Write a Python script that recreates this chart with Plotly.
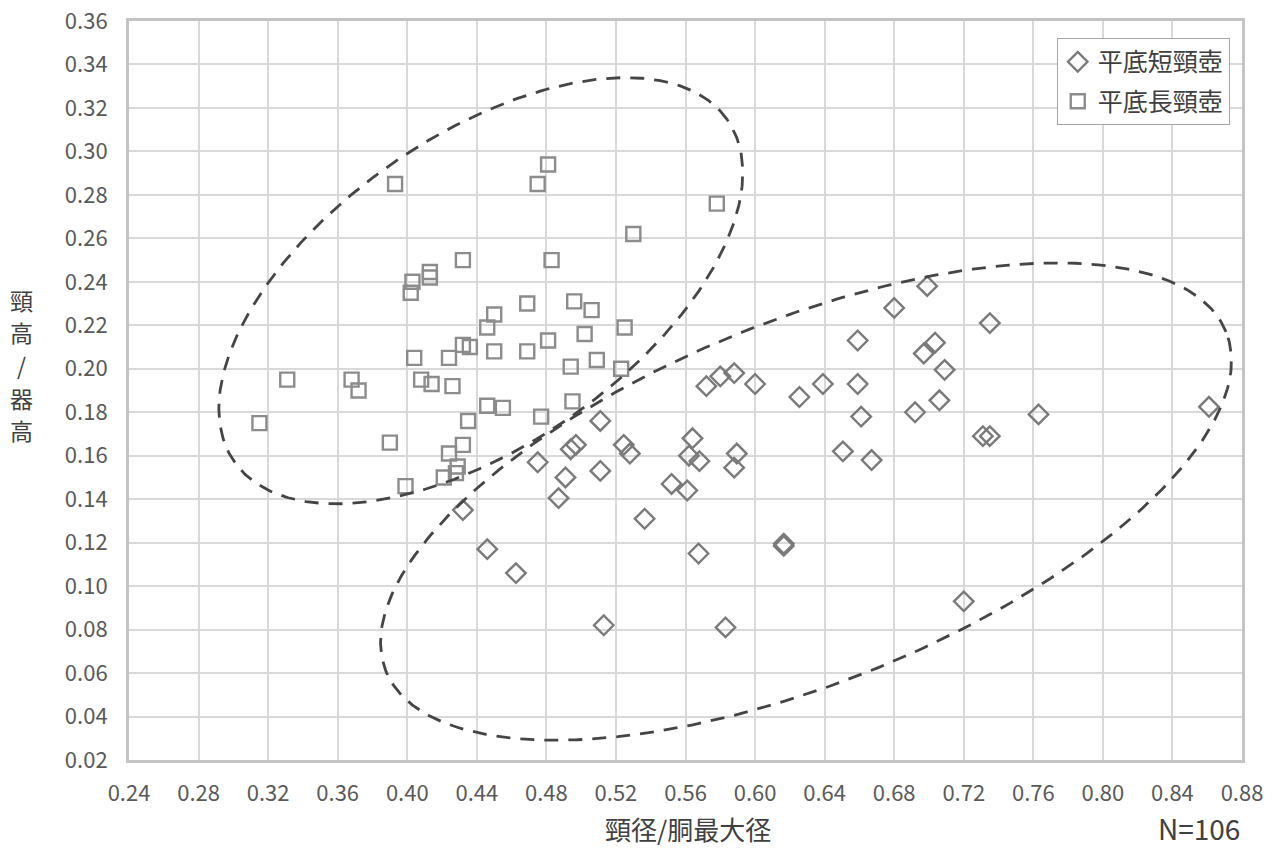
import numpy as np
import plotly.graph_objects as go

# ---- data: 平底長頸壺 (squares) ----
long_x = [0.315, 0.331, 0.368, 0.372, 0.390, 0.393, 0.399, 0.402, 0.403, 0.404,
          0.408, 0.413, 0.413, 0.414, 0.421, 0.424, 0.424, 0.426, 0.428, 0.429,
          0.432, 0.432, 0.432, 0.435, 0.436, 0.446, 0.446, 0.450, 0.450, 0.455,
          0.469, 0.469, 0.475, 0.477, 0.481, 0.481, 0.483, 0.494, 0.495, 0.496,
          0.502, 0.506, 0.509, 0.523, 0.525, 0.530, 0.578]
long_y = [0.175, 0.195, 0.195, 0.190, 0.166, 0.285, 0.146, 0.235, 0.240, 0.205,
          0.195, 0.242, 0.2445, 0.193, 0.150, 0.161, 0.205, 0.192, 0.152, 0.155,
          0.250, 0.211, 0.165, 0.176, 0.210, 0.219, 0.183, 0.225, 0.208, 0.182,
          0.230, 0.208, 0.285, 0.178, 0.294, 0.213, 0.250, 0.201, 0.185, 0.231,
          0.216, 0.227, 0.204, 0.200, 0.219, 0.262, 0.276]

# ---- data: 平底短頸壺 (diamonds) ----
short_x = [0.432, 0.446, 0.4625, 0.475, 0.487, 0.491, 0.494, 0.497, 0.511, 0.511,
           0.513, 0.5245, 0.528, 0.5365, 0.552, 0.561, 0.564, 0.562, 0.568, 0.5675,
           0.572, 0.580, 0.588, 0.5895, 0.588, 0.583, 0.600, 0.6165, 0.6165, 0.6255,
           0.639, 0.6505, 0.659, 0.659, 0.661, 0.667, 0.680, 0.692, 0.697, 0.699,
           0.7035, 0.706, 0.709, 0.720, 0.731, 0.735, 0.735, 0.763, 0.861]
short_y = [0.135, 0.117, 0.106, 0.157, 0.1405, 0.150, 0.163, 0.165, 0.176, 0.153,
           0.082, 0.165, 0.161, 0.131, 0.147, 0.144, 0.168, 0.160, 0.1575, 0.115,
           0.192, 0.1965, 0.198, 0.161, 0.1545, 0.081, 0.193, 0.1195, 0.1185, 0.187,
           0.193, 0.162, 0.213, 0.193, 0.178, 0.158, 0.228, 0.180, 0.207, 0.238,
           0.212, 0.1855, 0.1995, 0.093, 0.169, 0.169, 0.221, 0.179, 0.1825]

# y-axis title characters (stacked vertically)
ytitle_chars = ["頸", "高", "/", "器", "高"]

# ellipse annotations (center in data units, semi-axes in px, angle deg)
ellipses = [
    dict(cx=0.4423, cy=0.2359, a=300, b=155, ang=34.7),
    dict(cx=0.6293, cy=0.1389, a=453, b=181, ang=22.0),
]

W, H = 1274, 849
ML, MR, MT, MB = 129, 32, 21, 89
XR = [0.24, 0.88]
YR = [0.02, 0.36]
PW, PH = W - ML - MR, H - MT - MB
px_x = PW / (XR[1] - XR[0])
px_y = PH / (YR[1] - YR[0])

fig = go.Figure()

fig.add_trace(go.Scatter(
    x=short_x, y=short_y, mode="markers", name="平底短頸壺", legendgroup="a",
    marker=dict(symbol="diamond-open", size=15, color="#7a7a7a", line=dict(width=2.4, color="#7a7a7a")),
))
fig.add_trace(go.Scatter(
    x=long_x, y=long_y, mode="markers", name="平底長頸壺", legendgroup="b",
    marker=dict(symbol="square-open", size=14, color="#8c8c8c", line=dict(width=2.4, color="#8c8c8c")),
))

t = np.linspace(0, 2 * np.pi, 400)
for e in ellipses:
    th = np.radians(e["ang"])
    dx = e["a"] * np.cos(t) * np.cos(th) - e["b"] * np.sin(t) * np.sin(th)
    dy = e["a"] * np.cos(t) * np.sin(th) + e["b"] * np.sin(t) * np.cos(th)
    fig.add_trace(go.Scatter(
        x=e["cx"] + dx / px_x, y=e["cy"] + dy / px_y, mode="lines",
        line=dict(color="#454545", width=2.8, dash="14px,10px"),
        showlegend=False, hoverinfo="skip",
    ))

font_family = "Noto Sans CJK JP"
tick_font = dict(family=font_family, size=22, color="#595959")

fig.update_layout(
    width=W, height=H,
    margin=dict(l=ML, r=MR, t=MT, b=MB, autoexpand=False),
    paper_bgcolor="white", plot_bgcolor="white",
    font=dict(family=font_family, color="#595959"),
    legend=dict(
        x=0.989, y=0.977, xanchor="right", yanchor="top",
        bgcolor="white", bordercolor="#a6a6a6", borderwidth=1,
        font=dict(family=font_family, size=25, color="#404040"),
        itemwidth=30, tracegroupgap=4,
    ),
    showlegend=True,
)
fig.update_xaxes(
    range=XR, dtick=0.04, tick0=0.24, tickformat=".2f", automargin=False,
    showgrid=True, gridcolor="#d9d9d9", gridwidth=1.5,
    showline=True, linecolor="#c4c4c4", linewidth=3, mirror=True,
    zeroline=False, tickfont=tick_font, ticks="", ticklabelstandoff=12,
)
fig.update_yaxes(
    range=YR, dtick=0.02, tick0=0.02, tickformat=".2f", automargin=False,
    showgrid=True, gridcolor="#d9d9d9", gridwidth=1.5,
    showline=True, linecolor="#c4c4c4", linewidth=3, mirror=True,
    zeroline=False, tickfont=tick_font, ticks="", ticklabelstandoff=14,
)

def py(px):
    """pixel row -> paper y"""
    return (H - MB - px) / PH

def pxp(px):
    """pixel column -> paper x"""
    return (px - ML) / PW

fig.add_annotation(
    text="頸径/胴最大径", xref="paper", yref="paper", x=pxp(688), y=py(828),
    xanchor="center", yanchor="middle", showarrow=False,
    font=dict(family=font_family, size=26, color="#404040"),
)
for i, ch in enumerate(ytitle_chars):
    fig.add_annotation(
        text=ch, xref="paper", yref="paper", x=pxp(21), y=py(300 + i * 32.5),
        xanchor="center", yanchor="middle", showarrow=False,
        font=dict(family=font_family, size=23, color="#404040"),
    )
fig.add_annotation(
    text="N=106", xref="paper", yref="paper", x=1.0, y=py(828),
    xanchor="right", yanchor="middle", showarrow=False,
    font=dict(family=font_family, size=28, color="#404040"),
)

fig.write_html("out.html")
